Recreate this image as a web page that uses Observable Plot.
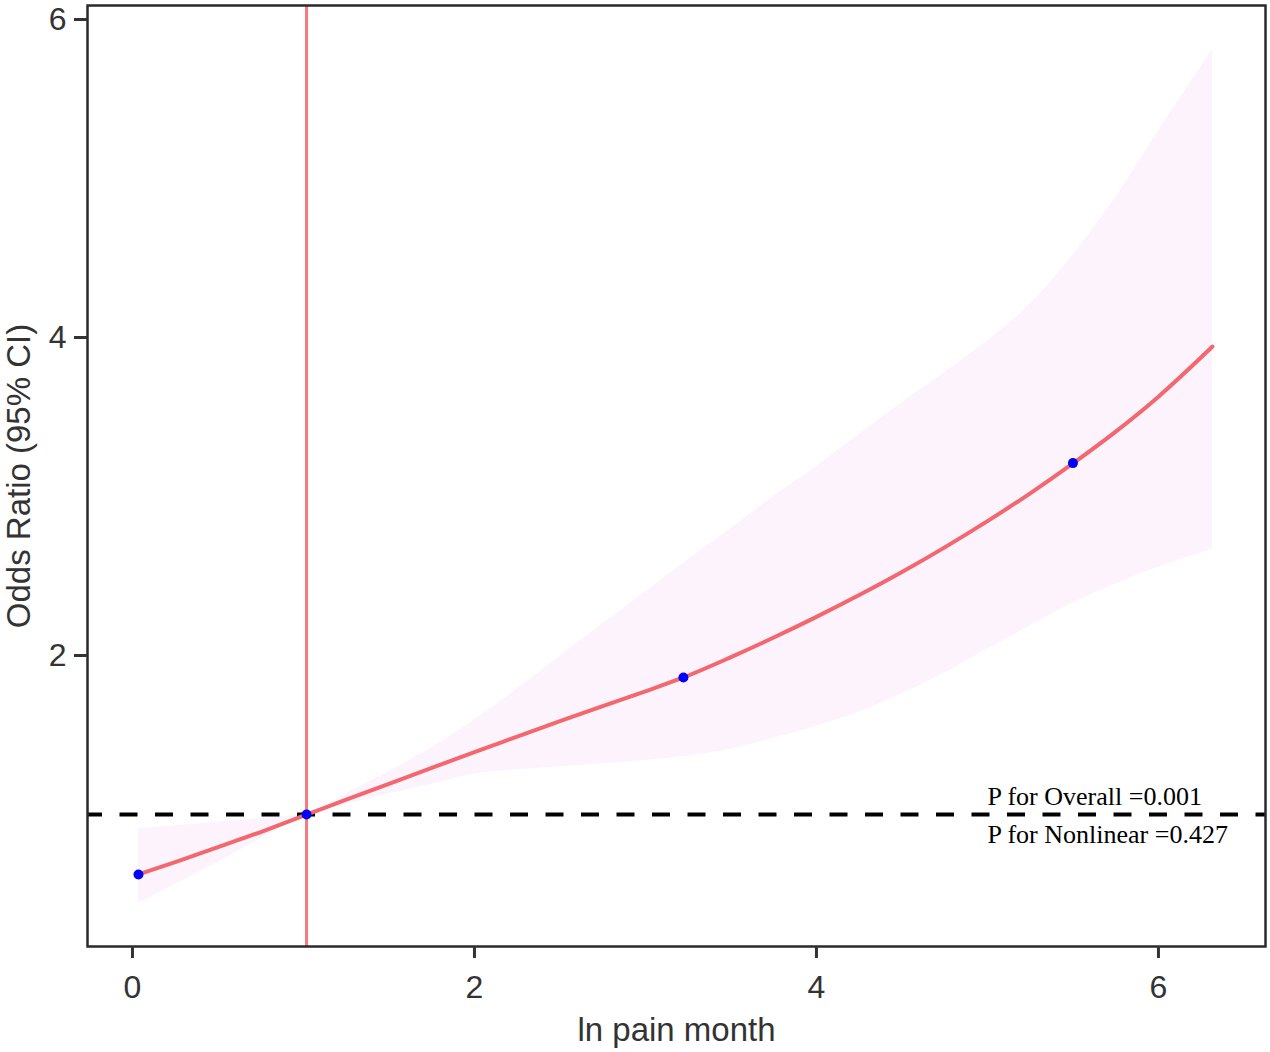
<!DOCTYPE html>
<html>
<head>
<meta charset="utf-8">
<script src="https://cdn.jsdelivr.net/npm/d3@7"></script>
<script src="https://cdn.jsdelivr.net/npm/@observablehq/plot@0.6"></script>
<style>
  html, body { margin: 0; padding: 0; background: #fff; }
  #chart svg { display: block; }
</style>
</head>
<body>
<div id="chart"></div>
<script>
// ---- data ----
const xGrid   = [0.035, 0.25, 0.5, 0.75, 1.018, 1.25, 1.5, 1.75, 2.0, 2.25, 2.5, 2.75, 3.0, 3.222, 3.5, 3.75, 4.0, 4.25, 4.5, 4.75, 5.0, 5.25, 5.5, 5.75, 6.0, 6.316];
const orEst   = [0.623, 0.70, 0.795, 0.89, 1.0, 1.093, 1.193, 1.293, 1.393, 1.49, 1.587, 1.682, 1.775, 1.862, 1.99, 2.113, 2.243, 2.38, 2.525, 2.68, 2.845, 3.02, 3.208, 3.408, 3.628, 3.943];
const orLower = [0.44, 0.56, 0.70, 0.85, 1.0, 1.063, 1.13, 1.19, 1.255, 1.28, 1.30, 1.32, 1.34, 1.365, 1.41, 1.48, 1.555, 1.645, 1.76, 1.89, 2.04, 2.185, 2.33, 2.45, 2.555, 2.67];
const orUpper = [0.912, 0.93, 0.952, 0.975, 1.0, 1.13, 1.27, 1.42, 1.595, 1.79, 1.995, 2.20, 2.40, 2.58, 2.80, 3.00, 3.19, 3.39, 3.59, 3.78, 3.98, 4.21, 4.52, 4.88, 5.30, 5.81];

const knotX  = [0.035, 1.018, 3.222, 5.50];
const knotOR = [0.623, 1.0, 1.862, 3.21];

const refX  = 1.018;
const refOR = 1;

const xTicks = [0, 2, 4, 6];
const yTicks = [2, 4, 6];

const pLabels = ["P for Overall =0.001", "P for Nonlinear =0.427"];
const pLabelX = [5, 5];
const pLabelY = [1.115, 0.876];

const xTitle = "ln pain month";
const yTitle = "Odds Ratio (95% CI)";

// ---- tables built from the arrays ----
const curve = xGrid.map((x, i) => ({x, est: orEst[i], lo: orLower[i], hi: orUpper[i]}));
const knots = knotX.map((x, i) => ({x, y: knotOR[i]}));
const notes = pLabels.map((t, i) => ({t, x: pLabelX[i], y: pLabelY[i]}));

const chart = Plot.plot({
  width: 1270,
  height: 1052,
  marginLeft: 87,
  marginRight: 5,
  marginTop: 5,
  marginBottom: 106,
  style: {fontFamily: "Liberation Sans, Arial, sans-serif", fontSize: "32px", color: "#333", background: "#fff"},
  x: {domain: [-0.263, 6.626]},
  y: {domain: [0.170, 6.088]},
  marks: [
    Plot.areaY(curve, {x: "x", y1: "lo", y2: "hi", fill: "#FDF3FD", curve: "monotone-x"}),
    Plot.ruleY([refOR], {stroke: "#000", strokeWidth: 4, strokeDasharray: "18,17.5", strokeDashoffset: 3}),
    Plot.ruleX([refX], {stroke: "#F47A7C", strokeWidth: 3}),
    Plot.line(curve, {x: "x", y: "est", stroke: "#F3676F", strokeWidth: 4, curve: "monotone-x"}),
    Plot.dot(knots, {x: "x", y: "y", r: 5, fill: "#0000FF", stroke: "none"}),
    Plot.text(notes, {x: "x", y: "y", text: "t", textAnchor: "start", lineAnchor: "middle",
      fontFamily: "Liberation Serif, Times New Roman, serif", fontSize: 26, fill: "#000"}),
    Plot.frame({stroke: "#2a2a2a", strokeWidth: 2.5}),
    Plot.axisX({ticks: xTicks, tickFormat: d => String(d), tickSize: 12, tickPadding: 17, strokeWidth: 3, label: null, fontSize: 32}),
    Plot.axisY({ticks: yTicks, tickFormat: d => String(d), tickSize: 13, tickPadding: 8, strokeWidth: 3, label: null, fontSize: 32}),
    Plot.text([xTitle], {frameAnchor: "bottom", dy: 84, text: d => d, textAnchor: "middle", lineAnchor: "middle", fontSize: 33, fill: "#333"}),
    Plot.text([yTitle], {frameAnchor: "left", dx: -68, text: d => d, rotate: -90, textAnchor: "middle", lineAnchor: "middle", fontSize: 33, fill: "#333"})
  ]
});
document.getElementById("chart").appendChild(chart);
</script>
</body>
</html>
